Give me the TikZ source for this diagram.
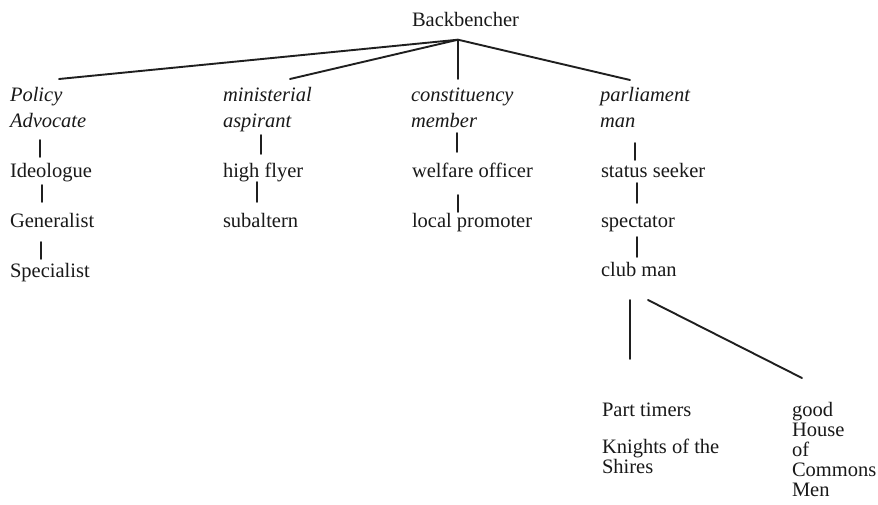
\documentclass[tikz,border=0pt]{standalone}
\usepackage{fontspec}
\setmainfont{Liberation Serif}
\begin{document}
\begin{tikzpicture}[x=1pt,y=-1pt,
  lbl/.style={anchor=base west,inner sep=0pt,outer sep=0pt,align=left,
    text=black!90,font=\fontsize{20.5}{25.5}\selectfont},
  role/.style={lbl,font=\fontsize{20.5}{25.5}\selectfont\itshape},
  tight/.style={lbl,font=\fontsize{20.5}{20}\selectfont},
  link/.style={line width=1.9pt,draw=black!88,line cap=round}]
\useasboundingbox[fill=white] (0,0) rectangle (878,504);

% root
\node[lbl] (root) at (412,26.7) {Backbencher};
\coordinate (hub) at ([shift={(46,13)}]root.base west);

% four roles (multi-line nodes sit on the baseline of their last line)
\node[role] (pa) at (10,127)  {Policy\\Advocate};
\node[role] (ma) at (223,127) {ministerial\\aspirant};
\node[role] (cm) at (411,127) {constituency\\member};
\node[role] (pm) at (600,127) {parliament\\man};

\draw[link] (hub) -- ([shift={(49,-48)}]pa.base west);
\draw[link] (hub) -- ([shift={(67,-48)}]ma.base west);
\draw[link] (hub) -- ([shift={(47,-48)}]cm.base west);
\draw[link] (hub) -- ([shift={(30,-47)}]pm.base west);

% policy advocate branch
\node[lbl] (ideo) at (10,177) {Ideologue};
\node[lbl] (gen)  at (10,227) {Generalist};
\node[lbl] (spec) at (10,277) {Specialist};
\draw[link] ([shift={(30,13)}]pa.base west) -- ([shift={(30,-20)}]ideo.base west);
\draw[link] ([shift={(32,8)}]ideo.base west) -- ([shift={(32,-25)}]gen.base west);
\draw[link] ([shift={(31,15)}]gen.base west) -- ([shift={(31,-18)}]spec.base west);

% ministerial aspirant branch
\node[lbl] (hf)  at (223,177) {high flyer};
\node[lbl] (sub) at (223,227) {subaltern};
\draw[link] ([shift={(38,8)}]ma.base west) -- ([shift={(38,-23)}]hf.base west);
\draw[link] ([shift={(34,5)}]hf.base west) -- ([shift={(34,-25)}]sub.base west);

% constituency member branch
\node[lbl] (wo) at (412,177) {welfare officer};
\node[lbl] (lp) at (412,227) {local promoter};
\draw[link] ([shift={(46,6)}]cm.base west) -- ([shift={(45,-25)}]wo.base west);
\draw[link] ([shift={(46,18)}]wo.base west) -- ([shift={(46,-15)}]lp.base west);

% parliament man branch
\node[lbl] (ss)   at (601,177) {status seeker};
\node[lbl] (sp)   at (601,227) {spectator};
\node[lbl] (club) at (601,276) {club man};
\draw[link] ([shift={(35,16)}]pm.base west) -- ([shift={(34,-17)}]ss.base west);
\draw[link] ([shift={(36,6)}]ss.base west) -- ([shift={(36,-24)}]sp.base west);
\draw[link] ([shift={(36,10)}]sp.base west) -- ([shift={(36,-19)}]club.base west);

% club man subtypes
\node[lbl]   (pt)  at (602,416.5) {Part timers};
\node[tight] (kn)  at (602,473)   {Knights of the\\Shires};
\node[tight] (hoc) at (792,496.5) {good\\House\\of\\Commons\\Men};
\draw[link] ([shift={(29,24)}]club.base west) -- ([shift={(28,-57.5)}]pt.base west);
\draw[link] ([shift={(47,24)}]club.base west) -- ([shift={(10,-118.5)}]hoc.base west);
\end{tikzpicture}
\end{document}
